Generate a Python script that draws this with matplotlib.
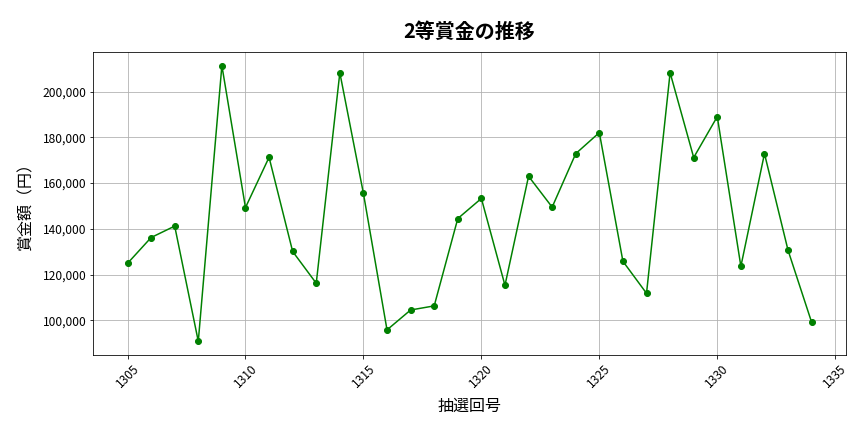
import numpy as np
import matplotlib
matplotlib.use('Agg')
import matplotlib.pyplot as plt
from matplotlib.ticker import FuncFormatter

plt.rcParams['font.family'] = ['Noto Sans CJK JP', 'DejaVu Sans']

# draw numbers and 2nd-prize amounts (yen)
draws = list(range(1305, 1335))
prize = [124900, 136200, 141200, 90800, 211400, 149300, 171300, 130100, 116200, 208300,
         155500, 95800, 104500, 106300, 144500, 153300, 115300, 163000, 149500, 172900,
         182100, 125800, 111800, 208300, 171200, 189100, 123600, 172900, 130600, 99100]

title = '2等賞金の推移'
xlabel = '抽選回号'
ylabel = '賞金額（円）'

fig, ax = plt.subplots(figsize=(12, 6), dpi=72)
ax.plot(draws, prize, color='green', marker='o', markersize=6, linewidth=1.5)
ax.set_title(title, fontsize=20, fontweight='bold', pad=14)
ax.set_xlabel(xlabel, fontsize=16, labelpad=8)
ax.set_ylabel(ylabel, fontsize=16, labelpad=8)
ax.yaxis.set_major_formatter(FuncFormatter(lambda v, p: f'{int(v):,}'))
ax.tick_params(axis='x', labelrotation=45)
ax.tick_params(labelsize=12)
ax.grid(True, color='#b0b0b0', linewidth=0.8)
fig.subplots_adjust(left=0.108, right=0.979, top=0.88, bottom=0.178)
fig.savefig('out.png', dpi=72)
